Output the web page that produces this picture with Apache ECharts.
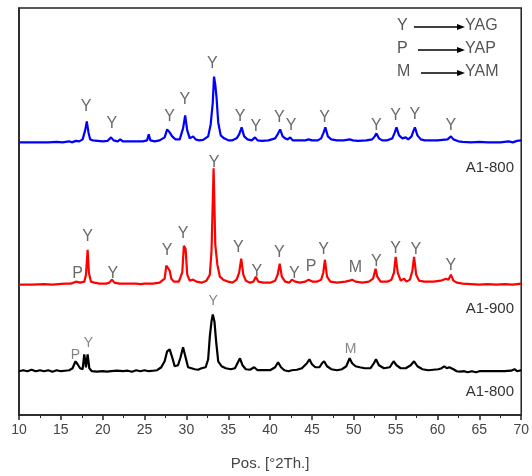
<!DOCTYPE html>
<html>
<head>
<meta charset="utf-8">
<script src="https://cdn.jsdelivr.net/npm/echarts@6/dist/echarts.min.js"></script>
<style>
	html,body{margin:0;padding:0;background:#fff;}
	#xrd{width:532px;height:476px;}
</style>
</head>
<body>
<div id="xrd"></div>
<script>
// 2theta / intensity (arbitrary units above each trace's own baseline)
var a1800top = [[10,0],[12,0],[13.5,0],[14.5,0.5],[15.2,0],[16,1],[16.3,0],[16.8,1.5],[17.2,1],[17.6,3],[17.9,12],[18.1,21],[18.3,10],[18.5,3],[18.8,2],[19.4,1.5],[20,1],[20.6,1.5],[21.0,5],[21.3,2],[21.8,1],[22.1,3],[22.4,1],[23,1],[24,1],[24.8,1],[25.3,2],[25.5,8],[25.7,2],[26.2,1],[26.8,2],[27.4,5],[27.7,13],[28.0,10],[28.3,6],[28.7,3],[29.2,3],[29.6,14],[29.85,27],[30.1,12],[30.4,4],[30.8,6],[31.1,3],[31.5,2],[32.0,2.5],[32.6,6],[32.9,18],[33.15,40],[33.3,66],[33.45,58],[33.6,45],[33.8,20],[34.1,7],[34.5,4],[35,2],[35.5,2],[36.0,4],[36.3,8],[36.6,15],[36.9,6],[37.3,3],[37.8,2],[38.2,5],[38.5,2],[39,1.5],[39.8,2],[40.6,4],[40.9,8],[41.2,13],[41.5,6],[41.8,4],[42.1,3],[42.4,5],[42.7,2],[43.5,2],[44.2,2],[44.6,3],[45,2],[45.7,2],[46.1,4],[46.4,10],[46.6,15],[46.9,6],[47.3,3],[48,2],[48.8,2],[49.5,3],[49.9,2],[50.5,1.5],[51.5,2],[52.2,3],[52.5,6],[52.7,9],[53.0,4],[53.4,2],[54,2],[54.6,4],[54.9,10],[55.1,15],[55.4,7],[55.8,4],[56.2,5],[56.5,3],[56.9,6],[57.1,11],[57.3,15],[57.6,7],[58,3],[58.5,2],[59.2,2],[60,2],[60.6,2.5],[61.2,3],[61.6,6],[61.9,3],[62.5,1],[63,0.5],[64,0],[65,0.5],[66,0],[67.5,0],[68.5,1],[69,0],[69.5,1.5],[70,2]]

var a1900 = [[10,0],[11.5,0],[13,0.5],[14,0],[15.5,1],[16.2,1],[16.8,3],[17.0,5],[17.3,2],[17.8,3],[18.0,10],[18.2,35],[18.35,12],[18.6,3],[19,2],[19.6,1],[20.4,1],[20.8,2],[21.1,5],[21.4,2],[22,1],[23,1],[24,1],[24.5,0.5],[25,1],[26,1],[26.8,2],[27.4,6],[27.6,19],[27.8,21],[28.0,14],[28.2,6],[28.5,3],[29.1,3],[29.5,12],[29.7,39],[29.9,36],[30.1,10],[30.4,4],[30.8,5],[31.2,3],[31.8,2],[32.4,4],[32.8,10],[33.0,34],[33.25,117],[33.45,40],[33.7,20],[34.0,8],[34.4,5],[35,3],[35.5,2],[36.0,5],[36.3,12],[36.55,26],[36.8,10],[37.1,4],[37.6,2],[38.0,3],[38.3,8],[38.6,3],[39.2,2],[40,2],[40.6,4],[40.9,10],[41.15,21],[41.4,8],[41.8,3],[42.3,2],[42.6,5],[42.8,7],[43.0,3],[43.6,2],[44.2,3],[44.6,5],[44.8,6],[45.1,3],[45.6,3],[46.1,5],[46.35,12],[46.55,25],[46.8,8],[47.2,3],[48,2],[49,3],[49.5,4],[49.8,5],[50.2,3],[51,2],[51.8,3],[52.3,6],[52.6,16],[52.8,8],[53.2,3],[54,3],[54.5,5],[54.8,12],[55.0,28],[55.25,12],[55.6,4],[56.0,6],[56.3,3],[56.7,5],[57.0,14],[57.2,28],[57.45,10],[57.8,4],[58.4,3],[59.5,3],[60.4,4],[61.0,6],[61.3,5],[61.6,10],[61.9,4],[62.3,2],[63,1],[64,0.5],[65,0],[66,0.5],[67,0],[68,0.5],[69,0],[70,1]]

var a1800low = [[10,0],[10.5,1],[11,0],[11.5,1.5],[12,0],[12.5,1],[13,0],[13.5,1],[14,-0.5],[14.5,1],[15,0],[15.5,0.5],[16,1],[16.4,3],[16.75,10],[17.0,7],[17.3,3],[17.6,2],[17.8,17],[18.0,4],[18.2,17],[18.4,3],[18.7,0],[19.3,-0.5],[20,0],[20.5,-0.5],[21,0],[21.7,0.5],[22.4,0],[23,0.5],[23.5,-0.5],[24,1],[24.5,0],[25,1],[25.5,0],[26,0.5],[26.5,1],[27.0,4],[27.4,10],[27.7,20],[28.0,22],[28.3,14],[28.6,5],[29.0,6],[29.3,14],[29.6,24],[29.9,14],[30.2,4],[30.6,3],[31.0,2],[31.4,1.5],[31.8,3],[32.3,4],[32.6,12],[32.8,35],[33.0,50],[33.15,57],[33.35,50],[33.55,30],[33.8,10],[34.2,5],[34.7,3],[35.3,2],[35.8,3],[36.1,8],[36.4,13],[36.7,6],[37.1,2],[37.6,1.5],[38.1,4],[38.5,1],[39.2,1],[40,1],[40.6,4],[40.95,9],[41.3,4],[41.7,1],[42.2,0],[42.6,1],[43.2,1.5],[43.8,3],[44.4,8],[44.7,12],[45.0,7],[45.4,4],[45.9,4],[46.2,8],[46.45,10],[46.8,5],[47.3,2],[48.0,1],[48.6,2],[49.1,5],[49.5,13],[49.8,8],[50.2,5],[50.7,4],[51.3,3],[52.0,3],[52.4,8],[52.65,12],[53.0,6],[53.6,3],[54.3,4],[54.75,10],[55.1,6],[55.6,3],[56.2,3],[56.8,6],[57.2,10],[57.6,5],[58.2,2],[58.9,1],[59.5,1.5],[60.1,2],[60.5,3],[60.8,5],[61.1,3],[61.4,4],[61.6,5],[61.9,2],[62.3,0],[62.7,-0.5],[63.2,0],[63.6,-1],[64.1,0],[64.6,-1],[65,0],[66,0],[67,0],[68,0],[68.8,0.5],[69.2,2],[69.5,0],[70,1]]

// phase marks: [2theta, letter, height above baseline]
var marksTop = [[18.0,'Y',36],[21.1,'Y',19],[28.0,'Y',26],[29.8,'Y',43],[33.1,'Y',79],[36.4,'Y',26],[38.3,'Y',16],[41.1,'Y',25],[42.5,'Y',17],[46.5,'Y',25],[52.7,'Y',17],[55.0,'Y',27],[57.3,'Y',28],[61.6,'Y',17]]
var marks900 = [[17.0,'P',11],[18.2,'Y',48],[21.2,'Y',11],[27.7,'Y',34],[29.6,'Y',51],[33.3,'Y',123],[36.2,'Y',37],[38.4,'Y',13],[41.1,'Y',32],[42.9,'Y',11],[44.9,'P',18],[46.4,'Y',35],[50.2,'M',17],[52.7,'Y',23],[55.0,'Y',36],[57.4,'Y',35],[61.6,'Y',19]]
var marksLow = [[16.75,'P',16],[18.3,'Y',28],[33.2,'Y',70],[49.6,'M',22]]

var sampleNames = ['A1-800','A1-900','A1-800']
var phaseKeys = [['Y','YAG'],['P','YAP'],['M','YAM']]
var xTicks = [10,15,20,25,30,35,40,45,50,55,60,65,70]

function mainChart(){
	var chart = echarts.init(document.querySelector('#xrd'))

	// vertical offsets so the three patterns are stacked
	var shift = [274, 131, 44]
	var colors = ['#0000ff','#ff0000','#000000']
	var patterns = [a1800top, a1900, a1800low]
	var marks = [marksTop, marks900, marksLow]

	var series = []
	patterns.forEach(function(p, i){
		series.push({
			type:'line',
			data:p.map(function(d){ return [d[0], d[1] + shift[i]] }),
			symbol:'none',
			lineStyle:{color:colors[i], width:2.2},
			silent:true,
			z:2
		})
		series.push({
			type:'scatter',
			symbolSize:0,
			data:marks[i].map(function(m){ return {value:[m[0], m[2] + shift[i]], name:m[1]} }),
			label:{
				show:true,
				position:'inside',
				formatter:'{b}',
				fontFamily:'Liberation Sans, Arial',
				fontSize: i == 2 ? 14 : 16,
				color: i == 2 ? '#666' : '#444'
			},
			silent:true,
			z:3
		})
	})

	var graphic = []
	var nameY = [169, 310, 393]
	sampleNames.forEach(function(n, i){
		graphic.push({
			type:'text', right:18, top:nameY[i] - 9,
			style:{text:n, font:'15px "Liberation Sans", Arial', fill:'#333'}
		})
	})
	phaseKeys.forEach(function(k, i){
		var y = 27 + i * 23
		var x0 = [414, 418, 421][i]
		graphic.push({type:'text', left:397, top:y - 9, style:{text:k[0], font:'16px "Liberation Sans", Arial', fill:'#555'}})
		graphic.push({type:'line', shape:{x1:x0, y1:y, x2:459, y2:y}, style:{stroke:'#000', lineWidth:1.4}})
		graphic.push({type:'polygon', shape:{points:[[457,y-3],[465,y],[457,y+3]]}, style:{fill:'#000'}})
		graphic.push({type:'text', left:465, top:y - 9, style:{text:k[1], font:'16px "Liberation Sans", Arial', fill:'#555'}})
	})

option = {
	animation:false,
	grid:{
		left:19, right:6, top:8, bottom:59,
		show:true, borderColor:'#222', borderWidth:1.5
	},
	xAxis:{
		type:'value',
		min:xTicks[0], max:xTicks[xTicks.length - 1], interval:5,
		name:'Pos. [°2Th.]',
		nameLocation:'middle',
		nameGap:41,
		nameTextStyle:{fontFamily:'Liberation Sans, Arial', fontSize:15, color:'#444'},
		axisLine:{lineStyle:{color:'#222', width:1.5}},
		axisTick:{length:5, lineStyle:{color:'#222', width:1.5}},
		minorTick:{show:true, splitNumber:2, length:3, lineStyle:{color:'#222'}},
		axisLabel:{fontFamily:'Liberation Sans, Arial', fontSize:14, color:'#444', margin:8},
		splitLine:{show:false}
	},
	yAxis:{
		type:'value',
		min:0, max:409,
		axisLine:{show:true, lineStyle:{color:'#222', width:1.5}},
		axisTick:{show:false},
		axisLabel:{show:false},
		splitLine:{show:false}
	},
	graphic:graphic,
	series:series
};

	chart.setOption(option)
}

mainChart()
</script>
</body>
</html>
